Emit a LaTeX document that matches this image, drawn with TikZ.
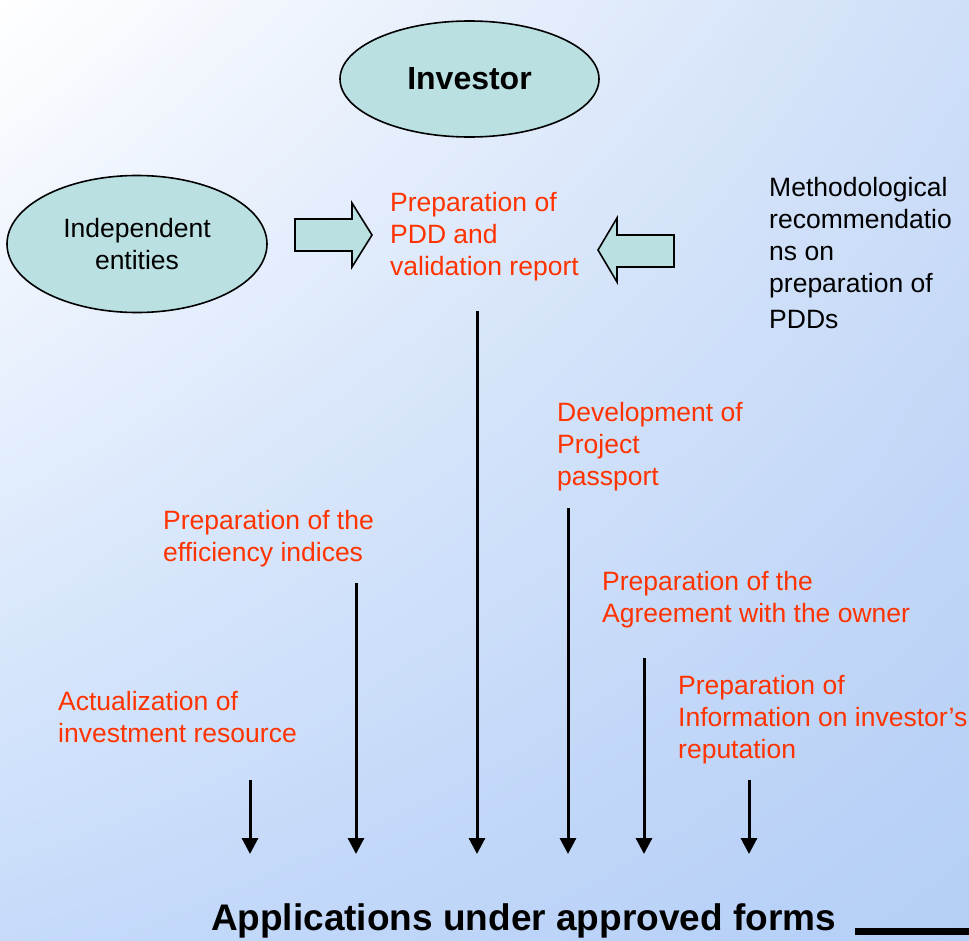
\documentclass[tikz,border=0pt]{standalone}
\usepackage{fontspec}
\setmainfont{Liberation Sans}
\usetikzlibrary{arrows.meta,shapes.geometric,shadings}
\definecolor{redtxt}{RGB}{255,51,0}
\definecolor{ellfill}{RGB}{186,224,226}
\definecolor{bgtr}{RGB}{207,223,248}
\definecolor{bgbl}{RGB}{198,219,250}
\definecolor{bgbr}{RGB}{180,206,246}
\begin{document}
\begin{tikzpicture}[x=1pt,y=-1pt,
  txt/.style={anchor=north west, inner sep=0pt, align=left, font=\fontsize{26.5}{32}\selectfont},
  redlbl/.style={txt, text=redtxt},
  oval/.style={ellipse, draw, line width=1.6pt, fill=ellfill, inner sep=0pt},
  blockarrow/.style={draw, line width=1.6pt, fill=ellfill, line join=miter},
  vline/.style={line width=3pt, -{Triangle[length=16pt,width=16pt]}}]
\useasboundingbox (0,0) rectangle (969,940);
\shade[upper left=white, upper right=bgtr, lower left=bgbl, lower right=bgbr] (0,0) rectangle (969,940);

% ellipses
\node[oval, minimum width=259pt, minimum height=116pt, font=\fontsize{32}{38}\selectfont\bfseries] (investor) at (469.5,79) {Investor};
\node[oval, minimum width=260pt, minimum height=137pt, align=center, font=\fontsize{26.5}{32}\selectfont] (indep) at (137,244) {Independent\\entities};

% block arrows
\draw[blockarrow] (295,219) -- (352,219) -- (352,203) -- (372,235) -- (352,267) -- (352,251) -- (295,251) -- cycle;
\draw[blockarrow] (674,235) -- (617,235) -- (617,218) -- (598,250) -- (617,282) -- (617,267) -- (674,267) -- cycle;

% texts
\node[redlbl] (pdd) at (390,192.2) {Preparation of\\PDD and\\validation report};
\node[txt] (method) at (769,176.7) {Methodological\\recommendatio\\ns on\\preparation of\\[4pt]PDDs};
\node[redlbl] (passport) at (557,402.2) {Development of\\Project\\passport};
\node[redlbl] (effic) at (163,509.7) {Preparation of the\\efficiency indices};
\node[redlbl] (agree) at (602,570.7) {Preparation of the\\Agreement with the owner};
\node[redlbl] (actual) at (58,690.7) {Actualization of\\investment resource};
\node[redlbl] (reput) at (678,675.2) {Preparation of\\Information on investor’s\\reputation};
\node[anchor=base, inner sep=0pt, font=\fontsize{37}{44}\selectfont\bfseries] (apps) at (523.5,930) {Applications under approved forms};

% arrow coordinates
\coordinate (s1) at (250,780);  \coordinate (e1) at (250,854);
\coordinate (s2) at (356,583);  \coordinate (e2) at (356,854);
\coordinate (s3) at (477,311);  \coordinate (e3) at (477,854);
\coordinate (s4) at (568,508);  \coordinate (e4) at (568,854);
\coordinate (s5) at (644,658);  \coordinate (e5) at (644,854);
\coordinate (s6) at (749,780);  \coordinate (e6) at (749,854);
\draw[vline] (s1) -- (e1);
\draw[vline] (s2) -- (e2);
\draw[vline] (s3) -- (e3);
\draw[vline] (s4) -- (e4);
\draw[vline] (s5) -- (e5);
\draw[vline] (s6) -- (e6);

% bar
\coordinate (b1) at (855,931.5);
\coordinate (b2) at (969,931.5);
\draw[line width=7pt] (b1) -- (b2);
\end{tikzpicture}
\end{document}
